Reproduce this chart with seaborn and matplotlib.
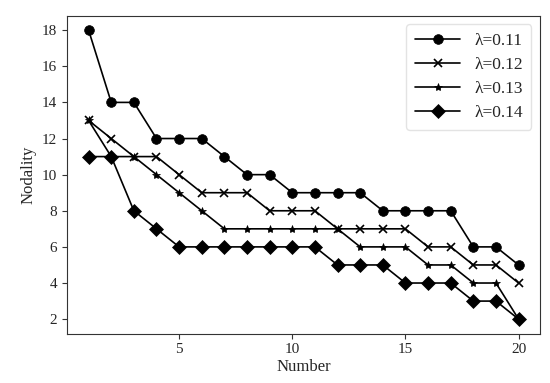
import numpy as np
import pandas as pd
import seaborn as sns
import matplotlib
matplotlib.use("Agg")
import matplotlib.pyplot as plt

# data
number = list(range(1, 21))
lam_011 = [18, 14, 14, 12, 12, 12, 11, 10, 10, 9, 9, 9, 9, 8, 8, 8, 8, 6, 6, 5]
lam_012 = [13, 12, 11, 11, 10, 9, 9, 9, 8, 8, 8, 7, 7, 7, 7, 6, 6, 5, 5, 4]
lam_013 = [13, 11, 11, 10, 9, 8, 7, 7, 7, 7, 7, 7, 6, 6, 6, 5, 5, 4, 4, 2]
lam_014 = [11, 11, 8, 7, 6, 6, 6, 6, 6, 6, 6, 5, 5, 5, 4, 4, 4, 3, 3, 2]
labels = ["λ=0.11", "λ=0.12", "λ=0.13", "λ=0.14"]

frames = []
for lab, vals in zip(labels, [lam_011, lam_012, lam_013, lam_014]):
    frames.append(pd.DataFrame({"Number": number, "Nodality": vals, "lam": lab}))
df = pd.concat(frames, ignore_index=True)

sns.set_style("ticks")
plt.rcParams['font.family'] = ['Liberation Serif', 'DejaVu Serif']

fig = plt.figure(figsize=(5.5, 3.83), dpi=100)
ax = fig.add_axes([0.122, 0.129, 0.86, 0.83])

markers = {"λ=0.11": "o", "λ=0.12": "x", "λ=0.13": "*", "λ=0.14": "D"}
sizes = {"λ=0.11": 7, "λ=0.12": 6, "λ=0.13": 6, "λ=0.14": 7.5}

for lab in labels:
    sub = df[df["lam"] == lab]
    mk = markers[lab]
    sns.lineplot(data=sub, x="Number", y="Nodality", ax=ax, color="black",
                 marker=mk, markersize=sizes[lab],
                 markeredgewidth=1.2 if mk == "x" else 0.5,
                 markeredgecolor="black", linewidth=1.2, label=lab)

ax.set_xticks([5, 10, 15, 20])
ax.set_yticks(np.arange(2, 19, 2))
ax.set_xlabel("Number", fontsize=12, labelpad=2)
ax.set_ylabel("Nodality", fontsize=12)
ax.tick_params(labelsize=11, direction="out", length=3.5, color="#333333")
for sp in ax.spines.values():
    sp.set_color("#333333")
    sp.set_visible(True)
ax.legend(loc="upper right", fontsize=12.5, frameon=True, edgecolor="#dddddd",
          handlelength=2.6, labelspacing=0.45, borderpad=0.5)

fig.savefig("out.png", dpi=100)
